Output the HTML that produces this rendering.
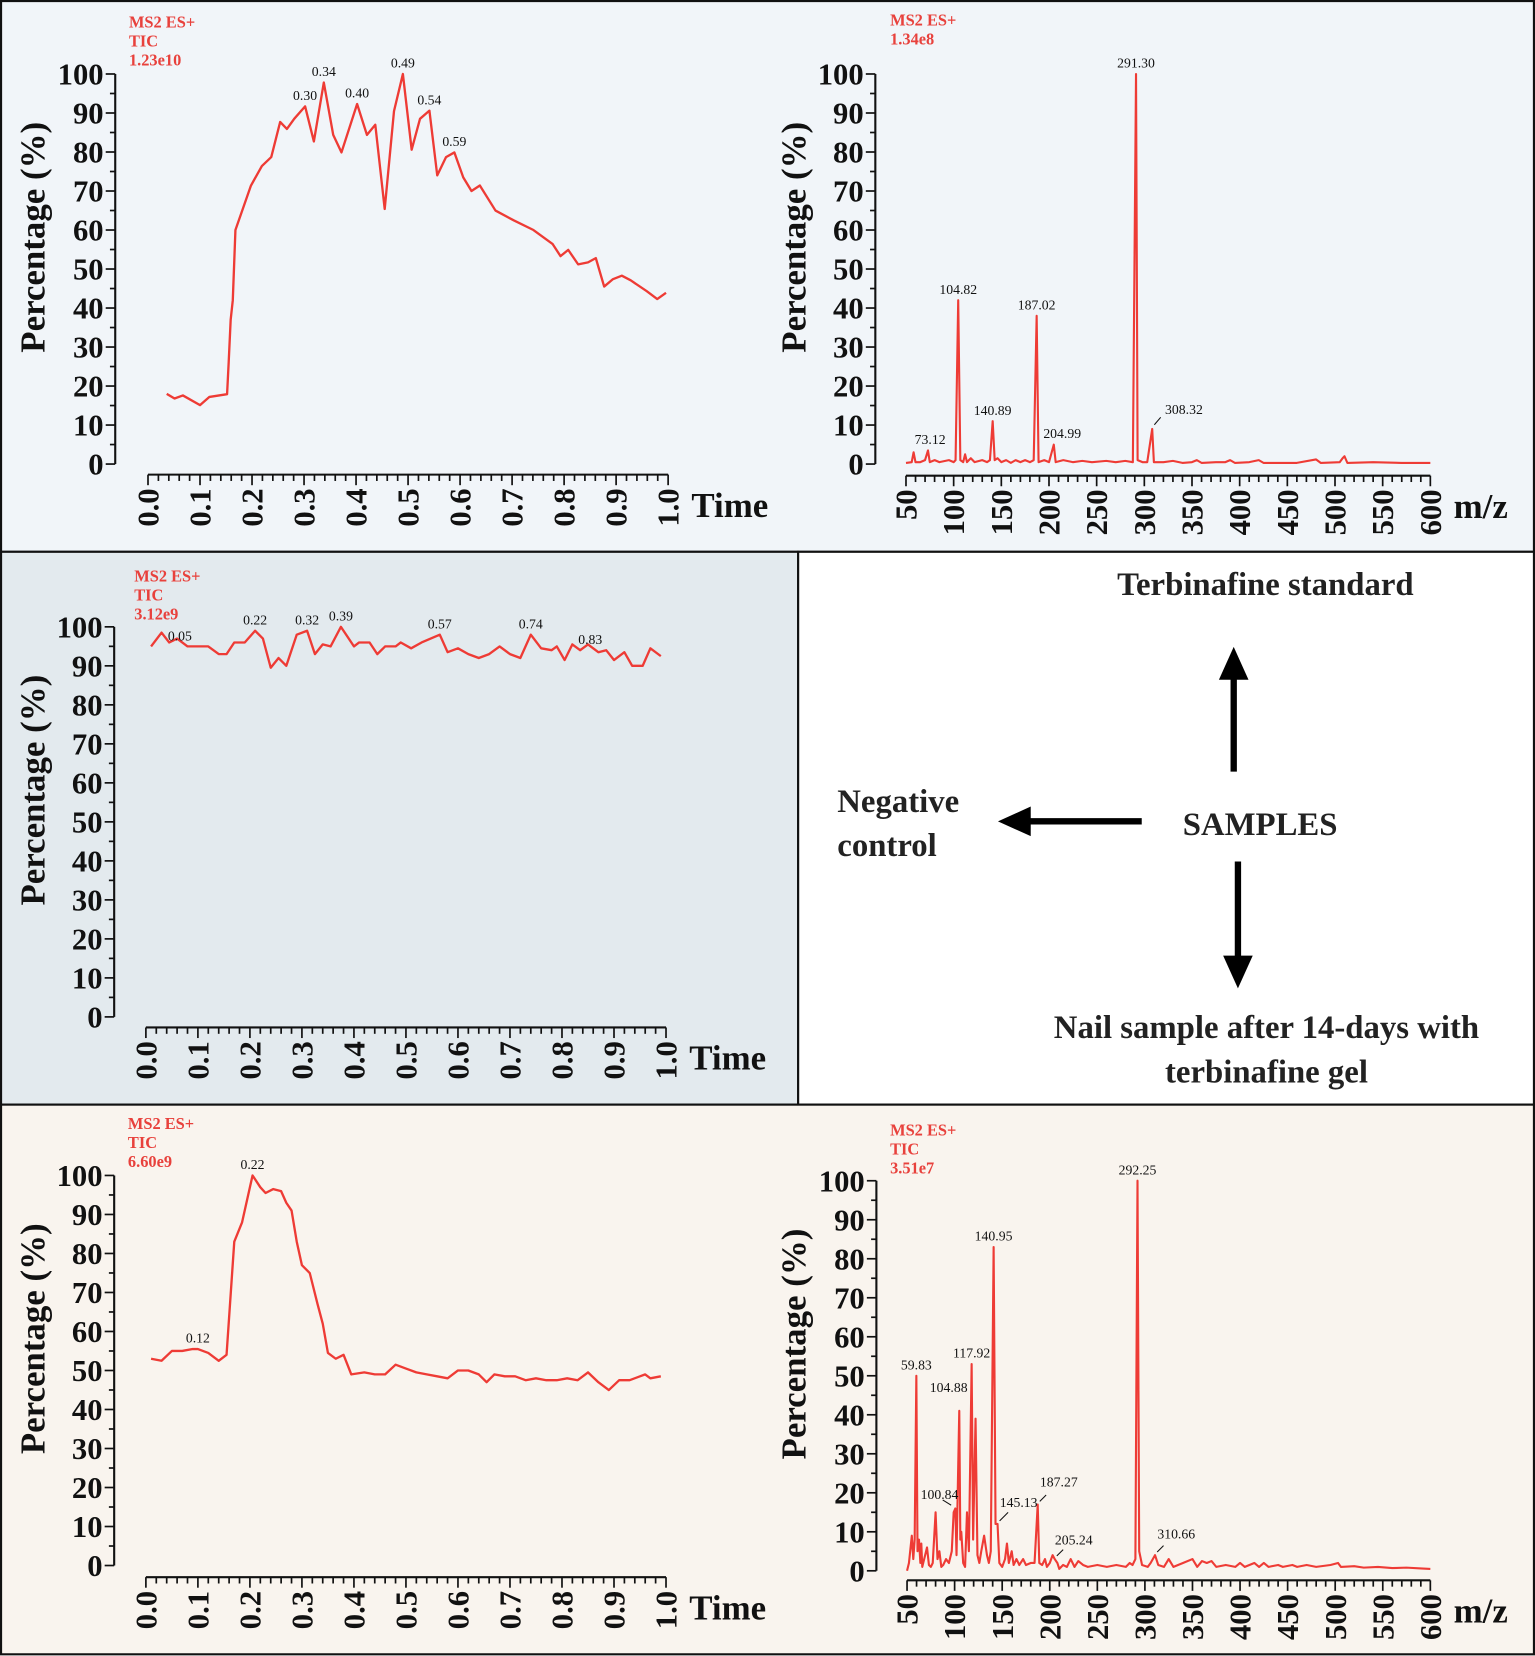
<!DOCTYPE html>
<html><head><meta charset="utf-8"><style>
html,body{margin:0;padding:0;background:#fff}
svg{display:block}
text{font-family:"Liberation Serif",serif}
.ax{font-weight:bold;font-size:33px;fill:#111}
.tk{font-weight:bold;font-size:29px;fill:#111}
.pk{font-size:13px;fill:#111}
.red{font-weight:bold;font-size:15.5px;fill:#e8413c}
.big{font-weight:bold;font-size:31px;fill:#222}
</style></head><body>
<svg id="fig" width="1535" height="1656" viewBox="0 0 1452 1566.6" preserveAspectRatio="none" xmlns="http://www.w3.org/2000/svg">
<rect x="1" y="1" width="1450" height="521" fill="#f1f5f9" stroke="#111" stroke-width="2"/>
<rect x="1" y="522" width="754" height="523" fill="#e3eaee" stroke="#111" stroke-width="2"/>
<rect x="755" y="522" width="696" height="523" fill="#ffffff" stroke="#111" stroke-width="2"/>
<rect x="1" y="1045" width="1450" height="520" fill="#f9f4ee" stroke="#111" stroke-width="2"/>
<g id="charts"></g>
<g>
<text class="big" x="1197" y="563" text-anchor="middle">Terbinafine standard</text>
<line x1="1167" y1="730" x2="1167" y2="640" stroke="#000" stroke-width="6"/>
<polygon points="1153,643 1181,643 1167,612" fill="#000"/>
<text class="big" x="1192" y="790" text-anchor="middle">SAMPLES</text>
<line x1="1080" y1="777" x2="972" y2="777" stroke="#000" stroke-width="6"/>
<polygon points="975,763 975,791 944,777" fill="#000"/>
<text class="big" x="792" y="768">Negative</text>
<text class="big" x="792" y="810">control</text>
<line x1="1171" y1="815" x2="1171" y2="907" stroke="#000" stroke-width="6"/>
<polygon points="1157,904 1185,904 1171,935" fill="#000"/>
<text class="big" x="1198" y="982" text-anchor="middle">Nail sample after 14-days with</text>
<text class="big" x="1198" y="1024" text-anchor="middle">terbinafine gel</text>
</g>
</svg>
<script>
// ---- Top-left chromatogram (terbinafine standard) ----
const tlTime=[0.036,0.051,0.067,0.10,0.118,0.152,0.155,0.159,0.163,0.168,0.198,0.219,0.237,0.254,0.267,0.281,0.302,0.319,0.338,0.356,0.372,0.402,0.421,0.437,0.455,0.473,0.49,0.507,0.523,0.541,0.556,0.573,0.589,0.606,0.622,0.638,0.668,0.703,0.741,0.778,0.793,0.808,0.827,0.846,0.861,0.877,0.894,0.911,0.928,0.959,0.979,0.996];
const tlValue=[18,16.8,17.6,15.1,17.2,17.9,26,37,42,60,71.4,76.4,78.7,87.7,85.9,88.5,91.7,82.7,97.8,84.4,79.9,92.3,84.4,87,65.4,90.5,100,80.6,88.5,90.6,74,78.7,79.9,73.5,70,71.4,65,62.5,60,56.4,53.3,54.9,51.2,51.7,52.8,45.5,47.4,48.3,47.1,44.3,42.3,43.9];
const tlPeakLabels=["0.30","0.34","0.40","0.49","0.54","0.59"];
const tlPeakX=[0.302,0.338,0.402,0.49,0.541,0.589];
const tlPeakY=[91.7,97.8,92.3,100,90.6,79.9];
// ---- Middle chromatogram (negative control) ----
const mTime=[0.01,0.03,0.045,0.06,0.08,0.10,0.12,0.14,0.155,0.17,0.19,0.21,0.225,0.24,0.255,0.27,0.29,0.31,0.325,0.34,0.355,0.375,0.40,0.41,0.43,0.445,0.46,0.48,0.49,0.51,0.53,0.565,0.58,0.60,0.62,0.64,0.66,0.68,0.70,0.72,0.74,0.76,0.78,0.79,0.805,0.82,0.835,0.85,0.87,0.885,0.90,0.92,0.935,0.955,0.97,0.99];
const mValue=[95,98.5,96,97,95,95,95,93,93,96,96,99,97,89.5,92,90,98,99,93,95.5,95,100,95,96,96,93,95,95,96,94.5,96,98,93.5,94.5,93,92,93,95,93,92,98,94.5,94,95,91.5,95.5,94,95.5,93.5,94,91.5,93.5,90,90,94.5,92.5];
const mPeakLabels=["0.05","0.22","0.32","0.39","0.57","0.74","0.83"];
const mPeakX=[0.045,0.21,0.31,0.375,0.565,0.74,0.83];
const mPeakY=[96,99,99,100,98,98,95];
// ---- Bottom-left chromatogram (nail sample) ----
const blTime=[0.01,0.03,0.05,0.07,0.09,0.10,0.12,0.14,0.155,0.17,0.185,0.20,0.205,0.22,0.23,0.245,0.26,0.27,0.28,0.29,0.30,0.315,0.33,0.34,0.35,0.365,0.38,0.395,0.42,0.44,0.46,0.48,0.50,0.52,0.54,0.56,0.58,0.60,0.62,0.64,0.655,0.67,0.69,0.71,0.73,0.75,0.77,0.79,0.81,0.83,0.85,0.87,0.89,0.91,0.93,0.95,0.96,0.97,0.99];
const blValue=[53,52.5,55,55,55.5,55.5,54.5,52.5,54,83,88,97,100,97,95.5,96.5,96,93,91,83,77,75,67,62,54.5,53,54,49,49.5,49,49,51.5,50.5,49.5,49,48.5,48,50,50,49,47,49,48.5,48.5,47.5,48,47.5,47.5,48,47.5,49.5,47,45,47.5,47.5,48.5,49,48,48.5];
const blPeakLabels=["0.12","0.22"];
const blPeakX=[0.10,0.205];
const blPeakY=[55.5,100];
// ---- Top-right spectrum (terbinafine standard) ----
const trMz=[50,56,58,60,65,70,73.1,75,80,85,95,100,102,104.82,107,110,112,114,118,122,130,135,138,140.89,143,146,150,155,160,165,170,175,180,184,187.02,189,195,200,205,207,215,225,235,245,260,270,280,288,291.3,293,298,303,308.3,310,320,330,340,350,355,360,375,385,390,395,410,420,425,440,460,480,485,505,508,510,513,540,570,600];
const trInt=[0.3,0.5,3,0.5,0.5,1,3.5,0.5,1,0.5,1,0.5,1,42,1,0.5,2.5,0.5,1.5,0.5,1,0.5,1,11,1,1.5,0.5,1,0.3,1,0.5,1,0.5,1,38,0.5,1,0.5,5,0.5,1,0.5,0.8,0.5,0.8,0.5,0.8,0.5,100,1,0.5,0.5,9,0.5,0.5,0.8,0.3,0.5,1,0.3,0.5,0.5,1,0.3,0.5,1,0.3,0.3,0.3,1.2,0.3,0.5,1.5,2,0.3,0.5,0.3,0.3];
const trPeakLabels=["73.12","104.82","140.89","187.02","204.99","291.30","308.32"];
const trPeakMz=[73.1,104.82,140.89,187.02,205,291.3,308.3];
const trPeakInt=[3.5,42,11,38,5,100,9];
// ---- Bottom-right spectrum (nail sample) ----
const brMz=[50,52,55,56.5,58,59.8,61,62.5,64,65,66,68,71,73,75,77,80,82,84,86,88,91,94,97,99,100.8,102,104.9,106,107,109,111,113,115,117.9,119.5,122,124,126,128,131,134,136,138,140.95,143,145.1,147,150,153,155,157,160,162,165,168,172,175,180,184,187.3,189,192,195,197,200,203,205.2,208,210,214,218,222,226,230,235,240,250,260,270,280,284,287,290,292.25,294,297,303,306,310.7,314,320,325,330,340,350,355,360,365,370,375,385,395,400,405,415,420,425,430,440,445,455,460,470,480,495,503,506,520,530,545,560,575,590,600];
const brInt=[0,2,9,3,8,50,5,8,2,7,1,3,6,1.5,1,2,15,3,5,1,1.5,3,2,5,15,16,4,41,8,10,2,1,15,5,53,8,39,4,2,5,9,4,2,5,83,12,12,2,1,3,7,2,5,1.5,3,1.5,3,1.5,2,2,17,2,1.5,3,1,2,4,3,2,0.5,1.5,1,3,1,2.5,1.5,1,1.5,1,1.5,1,2,1.5,3,100,5,1.5,1,2,4,1.5,1,3,1,2,3,1,2.5,2,2.5,1,1.5,1,2,1,2,1,2,1,1.5,1,1.5,1,1.5,1,1.5,2,1,1.2,0.8,1,0.7,0.8,0.6,0.5];
const brPeakLabels=["59.83","100.84","104.88","117.92","140.95","145.13","187.27","205.24","292.25","310.66"];
const brPeakMz=[59.8,100.8,104.9,117.9,140.95,145.1,187.3,205.2,292.25,310.7];
const brPeakInt=[50,16,41,53,83,12,17,3,100,4];

const NS="http://www.w3.org/2000/svg";
const root=document.getElementById('charts');
function mk(tag,attrs,parent){const e=document.createElementNS(NS,tag);for(const k in attrs)e.setAttribute(k,attrs[k]);(parent||root).appendChild(e);return e;}

function chart(cfg){
  const g=mk('g',{});
  
  
  const X=v=>cfg.x0+(v-cfg.xmin)/(cfg.xmax-cfg.xmin)*(cfg.x1-cfg.x0);
  const Y=v=>cfg.y0+(v/100)*(cfg.y100-cfg.y0);
  const ya=mk('line',{x1:cfg.ax,x2:cfg.ax,y1:cfg.y0,y2:cfg.y100,stroke:'#111','stroke-width':2},g);
  
  
  for(let v=0;v<=100;v+=5){
    const major=v%10===0;
    const t=mk('line',{x1:cfg.ax-(major?9:5),x2:cfg.ax,y1:Y(v),y2:Y(v),stroke:'#111','stroke-width':1.6},g);
    
    
    if(major){
      const l=mk('text',{x:cfg.ax-11,y:Y(v)+10,'text-anchor':'end',class:'tk'},g);
      l.textContent=v;
      
      
    }
  }
  const yt=mk('text',{x:0,y:0,class:'ax','text-anchor':'middle',transform:`translate(${cfg.ylx},${(cfg.y0+cfg.y100)/2-30}) rotate(-90)`},g);
  yt.textContent='Percentage (%)';
  
  
  const xa=mk('line',{x1:cfg.x0,x2:cfg.x1,y1:cfg.xy,y2:cfg.xy,stroke:'#111','stroke-width':2},g);
  
  
  const nMin=Math.round((cfg.xmax-cfg.xmin)/cfg.minor);
  for(let i=0;i<=nMin;i++){
    const v=cfg.xmin+i*cfg.minor;
    const major=i%cfg.per===0;
    const t=mk('line',{x1:X(v),x2:X(v),y1:cfg.xy,y2:cfg.xy+(major?10:6),stroke:'#111','stroke-width':1.6},g);
    
    
    if(major){
      const l=mk('text',{x:0,y:0,class:'tk','text-anchor':'end',transform:`translate(${X(v)+10},${cfg.xy+13}) rotate(-90)`},g);
      l.textContent=cfg.fmt(v);
      
      
    }
  }
  const xt=mk('text',{x:cfg.x1+22,y:cfg.xy+40,class:'ax'},g);
  xt.textContent=cfg.xlabel;
  
  
  cfg.info.forEach((s,i)=>{
    const t=mk('text',{x:cfg.infoX,y:cfg.infoY+i*18,class:'red'},g);
    t.textContent=s;
    
    
  });
  const pts=cfg.xs.map((v,i)=>X(v).toFixed(1)+','+Y(cfg.ys[i]).toFixed(1)).join(' ');
  const pl=mk('polyline',{points:pts,fill:'none',stroke:'#ee3b35','stroke-width':cfg.sw||2.2,'stroke-linejoin':'round'},g);
  
  
  cfg.labels.forEach((s,i)=>{
    const off=(cfg.offs&&cfg.offs[s])||[0,-6];
    const px=X(cfg.lx[i]),py=Y(cfg.ly[i]);
    const t=mk('text',{x:px+off[0],y:py+off[1],class:'pk','text-anchor':'middle'},g);
    t.textContent=s;
    
    
    if(off[2]){
      const ld=mk('line',{x1:px+off[2][0],y1:py+off[2][1],x2:px+off[2][2],y2:py+off[2][3],stroke:'#111','stroke-width':1},g);
      
      
    }
  });
}
const f1=v=>v.toFixed(1), f0=v=>String(Math.round(v));
chart({name:'chromatogram-standard',ax:109,y0:439,y100:70,ylx:42,x0:140,x1:632,xy:449,xmin:0,xmax:1,minor:0.02,per:5,fmt:f1,xlabel:'Time',info:['MS2 ES+','TIC','1.23e10'],infoX:122,infoY:26,xs:tlTime,ys:tlValue,labels:tlPeakLabels,lx:tlPeakX,ly:tlPeakY});
chart({name:'spectrum-standard',ax:828,y0:439,y100:70,ylx:762,x0:857,x1:1353,xy:450,xmin:50,xmax:600,minor:10,per:5,fmt:f0,xlabel:'m/z',info:['MS2 ES+','1.34e8'],infoX:842,infoY:24,xs:trMz,ys:trInt,sw:2,labels:trPeakLabels,lx:trPeakMz,ly:trPeakInt,offs:{'308.32':[30,-14,[2,-4,8,-11]],'204.99':[8,-6],'73.12':[2,-6]}});
chart({name:'chromatogram-negative-control',ax:108,y0:962,y100:593,ylx:42,x0:138,x1:630,xy:972,xmin:0,xmax:1,minor:0.02,per:5,fmt:f1,xlabel:'Time',info:['MS2 ES+','TIC','3.12e9'],infoX:127,infoY:550,xs:mTime,ys:mValue,labels:mPeakLabels,lx:mPeakX,ly:mPeakY,offs:{'0.05':[10,-2],'0.83':[12,-2]}});
chart({name:'chromatogram-nail-sample',ax:108,y0:1481,y100:1112,ylx:42,x0:138,x1:630,xy:1492,xmin:0,xmax:1,minor:0.02,per:5,fmt:f1,xlabel:'Time',info:['MS2 ES+','TIC','6.60e9'],infoX:121,infoY:1068,xs:blTime,ys:blValue,labels:blPeakLabels,lx:blPeakX,ly:blPeakY});
chart({name:'spectrum-nail-sample',ax:829,y0:1486,y100:1117,ylx:762,x0:858,x1:1353,xy:1495,xmin:50,xmax:600,minor:10,per:5,fmt:f0,xlabel:'m/z',info:['MS2 ES+','TIC','3.51e7'],infoX:842,infoY:1074,xs:brMz,ys:brInt,sw:2,labels:brPeakLabels,lx:brPeakMz,ly:brPeakInt,offs:{'59.83':[0,-6],'100.84':[-15,-9,[-4,-3,-12,-8]],'104.88':[-10,-18],'117.92':[0,-6],'145.13':[20,-16,[2,-3,10,-11]],'187.27':[20,-17,[2,-3,8,-9]],'205.24':[18,-14,[2,-3,8,-9]],'310.66':[20,-16,[2,-3,8,-9]]}});
</script>
</body></html>
